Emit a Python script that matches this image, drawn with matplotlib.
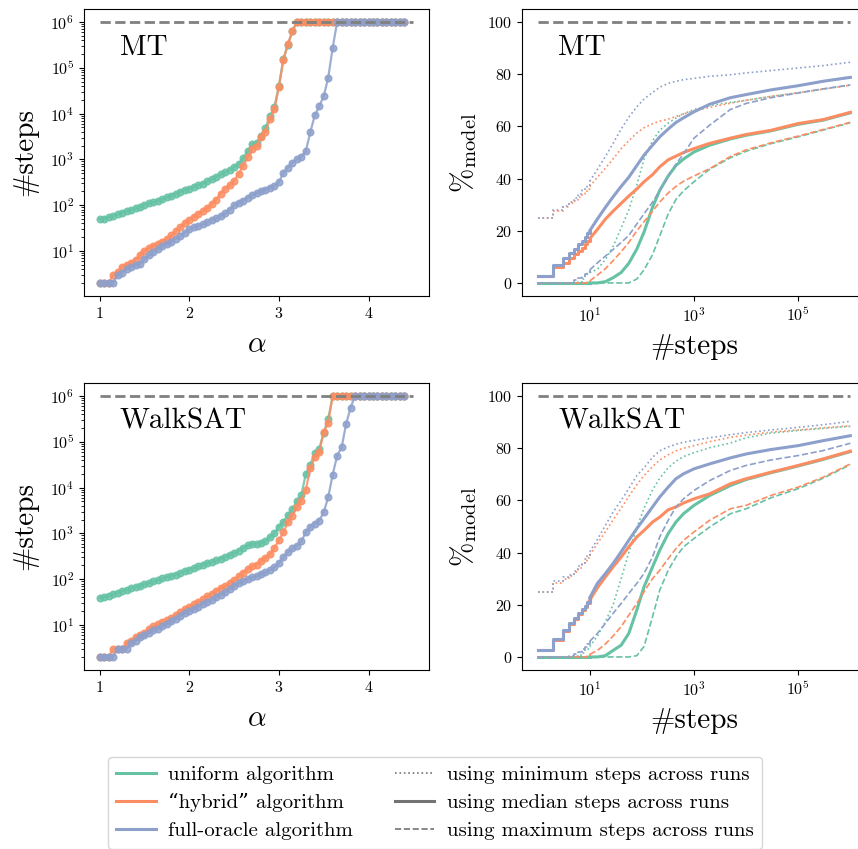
import numpy as np
import matplotlib
matplotlib.use("Agg")
import matplotlib.pyplot as plt
from matplotlib.lines import Line2D
from matplotlib.ticker import NullLocator

# ---- left panels: median #steps vs clause density alpha ----
alpha = [1.00, 1.05, 1.10, 1.15, 1.20, 1.25, 1.30, 1.35, 1.40, 1.45,
         1.50, 1.55, 1.60, 1.65, 1.70, 1.75, 1.80, 1.85, 1.90, 1.95,
         2.00, 2.05, 2.10, 2.15, 2.20, 2.25, 2.30, 2.35, 2.40, 2.45,
         2.50, 2.55, 2.60, 2.65, 2.70, 2.75, 2.80, 2.85, 2.90, 2.95,
         3.00, 3.05, 3.10, 3.15, 3.20, 3.25, 3.30, 3.35, 3.40, 3.45,
         3.50, 3.55, 3.60, 3.65, 3.70, 3.75, 3.80, 3.85, 3.90, 3.95,
         4.00, 4.05, 4.10, 4.15, 4.20, 4.25, 4.30, 4.35, 4.40]

mt_uniform = [50, 51, 54, 58, 63, 69, 74, 79, 85, 93,
              102, 110, 117, 126, 135, 148, 162, 178, 195, 214,
              229, 251, 275, 295, 331, 372, 417, 468, 525, 589,
              676, 794, 1050, 1510, 2190, 2290, 3310, 4900, 8710, 14100,
              40000, 158000, 316000, 631000, 1e6, 1e6, 1e6, 1e6, 1e6, 1e6,
              1e6, 1e6, 1e6, 1e6, 1e6, 1e6, 1e6, 1e6, 1e6, 1e6,
              1e6, 1e6, 1e6, 1e6, 1e6, 1e6, 1e6, 1e6, 1e6]
mt_hybrid = [2, 2, 2, 3, 3.5, 4.5, 5, 5.5, 6.5, 8,
             10, 11.5, 13, 14.5, 16, 18, 22, 27, 33, 40,
             48, 56, 65, 74, 87, 105, 132, 178, 230, 275,
             340, 480, 710, 1100, 1660, 1950, 3100, 3900, 7800, 12300,
             39000, 148000, 330000, 630000, 1e6, 1e6, 1e6, 1e6, 1e6, 1e6,
             1e6, 1e6, 1e6, 1e6, 1e6, 1e6, 1e6, 1e6, 1e6, 1e6,
             1e6, 1e6, 1e6, 1e6, 1e6, 1e6, 1e6, 1e6, 1e6]
mt_oracle = [2, 2, 2, 2, 3, 3.3, 4, 4.5, 5, 5.2,
             6.6, 8, 9.3, 11, 12.6, 14, 16, 18.6, 21, 25,
             30, 33, 35.5, 38, 43, 48, 52, 58, 66, 79,
             100, 112, 126, 145, 166, 182, 204, 219, 240, 263,
             316, 513, 661, 851, 1000, 1150, 1510, 3890, 9120, 14500,
             24000, 60300, 275000, 1e6, 1e6, 1e6, 1e6, 1e6, 1e6, 1e6,
             1e6, 1e6, 1e6, 1e6, 1e6, 1e6, 1e6, 1e6, 1e6]

ws_uniform = [39, 41, 43, 47, 51, 55, 59, 63, 68, 72,
              78, 83, 89, 95, 105, 112, 120, 126, 138, 151,
              162, 174, 191, 204, 224, 240, 257, 282, 309, 331,
              372, 417, 479, 550, 589, 589, 631, 692, 832, 1000,
              1410, 1780, 2510, 3390, 5010, 6760, 20000, 31600, 56200, 70800,
              158000, 316000, 1e6, 1e6, 1e6, 1e6, 1e6, 1e6, 1e6, 1e6,
              1e6, 1e6, 1e6, 1e6, 1e6, 1e6, 1e6, 1e6, 1e6]
ws_hybrid = [2, 2, 2, 3, 3, 3, 4, 4.5, 5.5, 6,
             6.8, 8, 9.5, 10.5, 11.5, 12.6, 14.5, 16.6, 19, 22,
             25, 28, 32, 36, 42, 48, 55, 63, 72, 83,
             95, 115, 138, 166, 190, 209, 251, 288, 355, 479,
             708, 1050, 1740, 2450, 3720, 5130, 8910, 26300, 45700, 60300,
             162000, 263000, 1e6, 1e6, 1e6, 1e6, 1e6, 1e6, 1e6, 1e6,
             1e6, 1e6, 1e6, 1e6, 1e6, 1e6, 1e6, 1e6, 1e6]
ws_oracle = [2, 2, 2, 2, 3, 3, 3, 4, 4.5, 5.4,
             6, 6.6, 7.6, 8.3, 9.3, 10.5, 12, 13.8, 15.8, 17.8,
             20, 22, 25, 28, 32, 35, 40, 46, 52, 60,
             71, 81, 91, 100, 110, 115, 132, 141, 158, 182,
             224, 302, 389, 468, 537, 676, 1050, 1410, 1620, 1910,
             2880, 6170, 19100, 50100, 75900, 245000, 562000, 1e6, 1e6, 1e6,
             1e6, 1e6, 1e6, 1e6, 1e6, 1e6, 1e6, 1e6, 1e6]

# ---- right panels: % of models solved within #steps ----
steps = [1, 2, 3, 4, 5, 6, 7, 8, 9, 10,
         14, 20, 28, 40, 56, 80, 110, 160, 220, 320,
         450, 630, 1e3, 2e3, 5e3, 1e4, 3e4, 1e5, 3e5, 1e6]

mt_pct = {
    "uniform": {
        "min": [0, 0, 0, 0, 0, 0.5, 1.5, 2.5, 3.5, 4,
                5.2, 9, 14, 21, 28, 37.5, 47.5, 54.5, 58.5, 61.3,
                63.2, 64.8, 66.5, 68, 69.2, 70, 71.5, 72.9, 74.3, 75.8],
        "median": [0, 0, 0, 0, 0, 0, 0, 0, 0, 0,
                   0, 0.5, 2, 4, 7.5, 13, 19.5, 29, 35.5, 41,
                   45, 47.5, 50.2, 52.8, 55.2, 56.6, 58.3, 60.8, 62.4, 65.2],
        "max": [0, 0, 0, 0, 0, 0, 0, 0, 0, 0,
                0, 0, 0, 0, 0, 1.5, 5, 10.8, 18, 26.5,
                32, 35.3, 38.8, 43.6, 48, 50.5, 53.4, 56, 58.6, 61.4],
    },
    "hybrid": {
        "min": [25, 27.5, 29, 30.5, 31.5, 33, 34, 35, 36, 37,
                40.5, 44, 47.5, 51.5, 54.5, 57.5, 59.5, 61, 62, 62.8,
                63.8, 64.8, 66, 67.3, 68.9, 70, 71.5, 72.9, 74.3, 75.8],
        "median": [2.5, 6, 7.8, 9.5, 11, 12.4, 13.5, 14.8, 16, 17,
                   20.5, 24.5, 27.5, 30.5, 33.3, 36, 38.8, 41.5, 44.5, 47.2,
                   48.6, 50, 51.5, 53.5, 55.5, 56.9, 58.5, 61.1, 62.6, 65.4],
        "max": [0, 0, 0, 0, 0, 0, 0, 0, 0.3, 0.8,
                3, 5.5, 8.5, 12, 15.5, 20, 23.5, 27.5, 31, 34.5,
                37, 39, 41, 43.8, 48.5, 51, 53.7, 56.3, 58.8, 61.6],
    },
    "oracle": {
        "min": [25, 28, 29.5, 31, 32.5, 34, 35.5, 36.5, 37.5, 39,
                43.5, 48.5, 53.5, 59, 63.5, 67.5, 70.5, 73, 75, 76.5,
                77.3, 77.9, 78.4, 79.2, 79.8, 80.5, 81.4, 82.4, 83.3, 84.6],
        "median": [2.5, 7, 9.5, 11.5, 13, 14.9, 16.2, 17.8, 19, 20,
                   24.5, 29, 33, 37, 40.5, 45, 49, 52.8, 56, 59,
                   61.5, 63.3, 65.6, 68.5, 71, 72.2, 74, 75.6, 77.3, 78.8],
        "max": [0, 0, 0, 0, 1, 1.8, 2.6, 3.5, 4.2, 5,
                7.7, 10.3, 12.8, 15.5, 18.2, 22.6, 26.5, 31, 35.3, 40.8,
                45.5, 49.5, 55.5, 60.5, 66.5, 68.8, 71, 72.8, 74.4, 75.9],
    },
}

ws_pct = {
    "uniform": {
        "min": [0, 0, 0, 0, 0.3, 0.8, 1.5, 2.5, 3.2, 4,
                8, 13.5, 20, 30, 40, 49.5, 57, 64, 68.5, 72.5,
                75, 76.8, 78.3, 80.2, 82, 84, 85.8, 86.8, 87.6, 88.4],
        "median": [0, 0, 0, 0, 0, 0, 0, 0, 0, 0,
                   0, 0.5, 2.5, 4.5, 9, 18, 26.9, 34.5, 40.9, 47.3,
                   51.7, 54.9, 58.1, 61.9, 65.7, 68, 70.6, 73.2, 75.7, 78.7],
        "max": [0, 0, 0, 0, 0, 0, 0, 0, 0, 0,
                0, 0, 0, 0, 0, 0.5, 4, 15.4, 25.6, 33.2,
                38.3, 42.2, 45.4, 49.8, 54.9, 56.8, 61, 64.5, 68.5, 73.7],
    },
    "hybrid": {
        "min": [25, 28.5, 30, 31, 32.5, 34, 35.5, 36.5, 38, 39,
                43.5, 48, 52.5, 57, 61.5, 66, 69.5, 73, 75.5, 77.5,
                79, 80, 81, 82.5, 84.2, 85, 86.2, 87, 87.8, 88.6],
        "median": [2.5, 6.5, 10, 12.5, 14.5, 16.5, 18, 19, 20.5, 21.8,
                   26.5, 30.7, 34.5, 38.3, 42.2, 46, 48.5, 51.7, 53.6, 56.4,
                   57.5, 59, 60.6, 62.5, 66.4, 68.3, 70.8, 73.4, 75.9, 78.9],
        "max": [0, 0, 0, 0, 0, 0, 0, 0, 0.5, 1,
                2.5, 5, 8, 11.6, 16, 20.5, 25, 30, 33.2, 37.7,
                41.5, 44.7, 47.9, 52.4, 56.8, 58.1, 61.9, 65.1, 68.9, 74],
    },
    "oracle": {
        "min": [25, 29, 30.5, 31.5, 33, 35, 36, 37.5, 39, 40.3,
                45, 50.5, 55.5, 60, 64.5, 69.5, 72.5, 76.5, 79, 80.5,
                81.5, 82.3, 83, 84, 85.2, 86, 87, 88, 89, 90.3],
        "median": [2.5, 7, 10.5, 13, 15, 17, 18.5, 19.5, 21, 22.7,
                   28.2, 32, 35.8, 40.3, 44.7, 49.2, 53, 57.5, 61.3, 65.1,
                   68.3, 70.2, 72.1, 74, 76.3, 77.8, 79.5, 81, 82.9, 84.8],
        "max": [0, 0, 0, 0.5, 1, 2, 3, 4, 5, 6,
                9, 12.9, 16.7, 20.5, 24.3, 28.2, 32, 38.3, 46, 52.4,
                57.5, 60.6, 63.8, 67.6, 71.5, 73.4, 75.5, 77.2, 79.1, 81.9],
    },
}

algos = ["uniform", "hybrid", "oracle"]
algo_labels = ["uniform algorithm", "\u201chybrid\u201d algorithm", "full-oracle algorithm"]
colors = ["#66c2a5", "#fc8d62", "#8da0cb"]   # Set2
stats = ["min", "median", "max"]
stat_labels = ["using minimum steps across runs", "using median steps across runs",
               "using maximum steps across runs"]
stat_styles = {"min": (":", 1.2), "median": ("-", 2.2), "max": ("--", 1.2)}

max_steps = 1e6


def draw_pct(ax, x, y, **kw):
    # integer steps at the start are drawn as stairs, the rest as a line
    ax.plot(x[:10], y[:10], drawstyle="steps-post", **kw)
    ax.plot(x[9:], y[9:], **kw)


def left_panel(ax, series, name):
    for vals, c in zip(series, colors):
        ax.plot(alpha, vals, "-o", color=c, lw=1.6, ms=4.8, alpha=0.85)
    ax.plot([1, 4.5], [max_steps, max_steps], "--", color="0.5", lw=2, zorder=5)
    ax.set_yscale("log")
    ax.set_xticks([1, 2, 3, 4])
    ax.set_xlabel(r"$\alpha$", fontsize=21, labelpad=8)
    ax.set_ylabel("#steps", fontsize=21, labelpad=9)
    ax.text(0.104, 0.865, name, transform=ax.transAxes, fontsize=21, va="center")


def right_panel(ax, pct, name):
    for a, c in zip(algos, colors):
        for s in stats:
            ls, lw = stat_styles[s]
            draw_pct(ax, steps, pct[a][s], color=c, ls=ls, lw=lw)
    ax.plot([1, max_steps], [100, 100], "--", color="0.5", lw=2)
    ax.set_xscale("log")
    ax.set_xticks([1e1, 1e3, 1e5])
    ax.xaxis.set_minor_locator(NullLocator())
    ax.set_yticks([0, 20, 40, 60, 80, 100])
    ax.set_xlabel("#steps", fontsize=21, labelpad=7)
    ax.set_ylabel(r"$\%_{\mathrm{model}}$", fontsize=21, labelpad=6)
    ax.text(0.105, 0.865, name, transform=ax.transAxes, fontsize=21, va="center")


def main():
    plt.rcParams["font.family"] = ["cmr10", "DejaVu Serif"]
    plt.rcParams["mathtext.fontset"] = "cm"
    plt.rcParams["axes.formatter.use_mathtext"] = True
    plt.rcParams["xtick.labelsize"] = 11.5
    plt.rcParams["ytick.labelsize"] = 11.5

    W, H = 858, 849
    fig = plt.figure(figsize=(W / 100, H / 100), dpi=100)
    ax_tl = fig.add_axes([84 / W, 1 - 296 / H, 345 / W, 287 / H])
    ax_tr = fig.add_axes([522 / W, 1 - 296 / H, 344 / W, 287 / H])
    ax_bl = fig.add_axes([84 / W, 1 - 670 / H, 345 / W, 287 / H])
    ax_br = fig.add_axes([522 / W, 1 - 670 / H, 344 / W, 287 / H])

    left_panel(ax_tl, [mt_uniform, mt_hybrid, mt_oracle], "MT")
    left_panel(ax_bl, [ws_uniform, ws_hybrid, ws_oracle], "WalkSAT")
    right_panel(ax_tr, mt_pct, "MT")
    right_panel(ax_br, ws_pct, "WalkSAT")

    handles = [Line2D([], [], color=c, lw=2.2) for c in colors]
    labels = list(algo_labels)
    for s, lab in zip(stats, stat_labels):
        ls, lw = stat_styles[s]
        handles.append(Line2D([], [], color="0.45", ls=ls, lw=lw))
        labels.append(lab)
    fig.legend(handles, labels, ncol=2, loc="upper center",
               bbox_to_anchor=(0.507, 1 - 757 / H), borderaxespad=0,
               fontsize=15, labelspacing=0.45, handlelength=1.9,
               handletextpad=0.6, columnspacing=2.0)

    fig.savefig("out.png", dpi=100)


main()
